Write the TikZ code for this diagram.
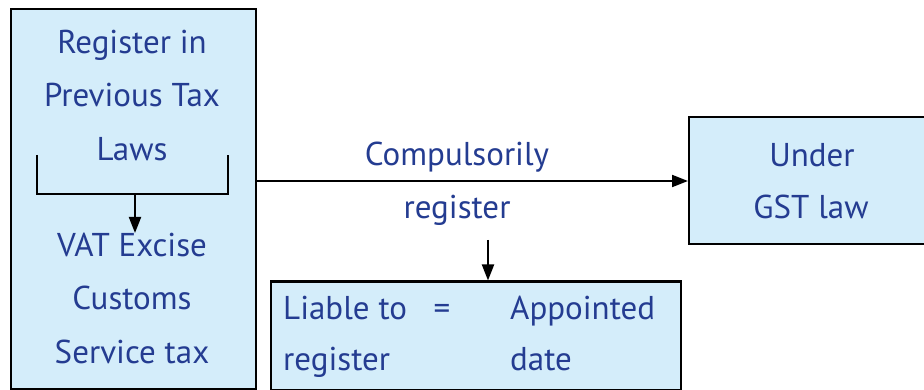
\documentclass[tikz,border=0pt]{standalone}
\usepackage{fontspec}
\setmainfont{PT Sans}
\usetikzlibrary{arrows.meta}
\definecolor{boxfill}{RGB}{212,237,250}
\definecolor{txt}{RGB}{36,60,145}
\tikzset{
  box/.style={draw=black, line width=2pt, fill=boxfill, inner sep=0pt, anchor=north west},
  lbl/.style={text=txt, font=\fontsize{33}{33}\selectfont, inner sep=0pt, text height=23pt, text depth=0pt},
  conn/.style={draw=black, line width=2pt, -{Triangle[length=16pt,width=12pt]}},
  brk/.style={draw=black, line width=2pt}
}
\begin{document}
\begin{tikzpicture}[x=1pt,y=-1pt]
\clip (0,0) rectangle (924,390);
\fill[white] (0,0) rectangle (924,390);
% boxes
\node[box, minimum width=245pt, minimum height=380pt] (left) at (9.5,8) {};
\node[box, minimum width=250pt, minimum height=127pt] (right) at (688,116) {};
\node[box, minimum width=410pt, minimum height=108pt] (bottom) at (270,280.5) {};
% left texts
\node[lbl] (t1) at (132,42) {Register in};
\node[lbl] (t2) at (132,95) {Previous Tax};
\node[lbl] (t3) at (132,149) {Laws};
\node[lbl] (t4) at (132,245) {VAT Excise};
\node[lbl] (t5) at (132,298) {Customs};
\node[lbl] (t6) at (132,352) {Service tax};
% bracket
\coordinate (b1) at (37,155);
\coordinate (b2) at (37,194);
\coordinate (b3) at (228,194);
\coordinate (b4) at (228,155);
\coordinate (bm) at (135,194);
\coordinate (bt) at (135,233);
\draw[brk] (b1) -- (b2) -- (b3) -- (b4);
\draw[conn] (bm) -- (bt);
% main arrow
\coordinate (ms) at (255,181);
\draw[conn] (ms) -- (right.west |- ms);
\node[lbl] (c1) at (457,154) {Compulsorily};
\node[lbl] (c2) at (457,207) {register};
\coordinate (ds) at (488,240);
\draw[conn] (ds) -- (ds |- bottom.north);
% right texts
\node[lbl] (r1) at (812,155) {Under};
\node[lbl] (r2) at (811,207) {GST law};
% bottom texts
\node[lbl, anchor=west] (l1) at (283,308) {Liable to};
\node[lbl] (eq) at (442,308) {=};
\node[lbl, anchor=west] (l2) at (510,308) {Appointed};
\node[lbl, anchor=west] (l3) at (283,359) {register};
\node[lbl, anchor=west] (l4) at (510,359) {date};
\end{tikzpicture}
\end{document}
